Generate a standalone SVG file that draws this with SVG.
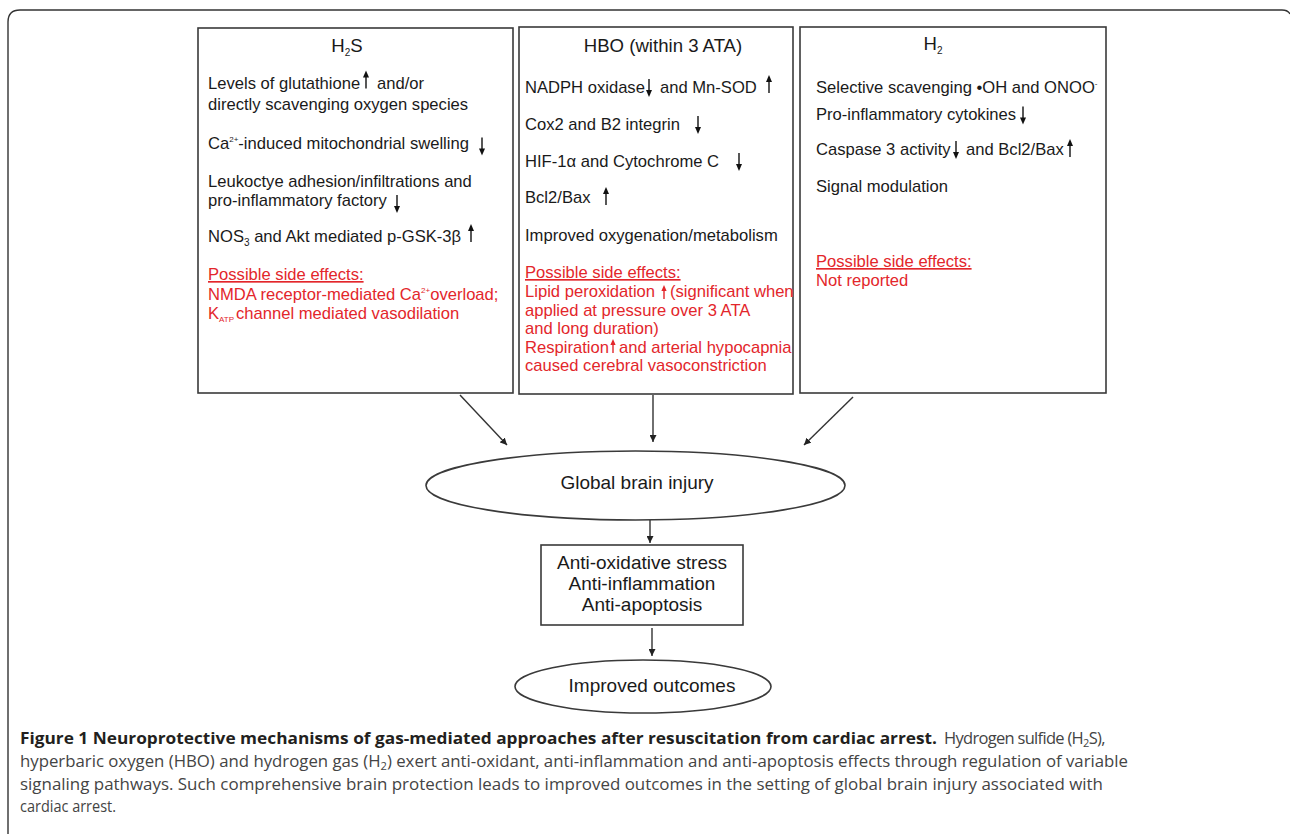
<svg xmlns="http://www.w3.org/2000/svg" xmlns:xlink="http://www.w3.org/1999/xlink" width="1290" height="834" viewBox="0 0 1290 834">
<style>
.box{fill:#fff;stroke:#3a3a3a;stroke-width:1.6}
.t{font-family:"Liberation Sans",Arial,sans-serif;font-size:16.6px;fill:#1a1a1a}
.ti{font-family:"Liberation Sans",Arial,sans-serif;font-size:18.6px;fill:#1a1a1a}
.big{font-family:"Liberation Sans",Arial,sans-serif;font-size:19px;fill:#1a1a1a}
.r{fill:#e3262b}
.u{text-decoration:underline}
.sm{font-size:10px}
.xs{font-size:8px}
.con{stroke:#333;stroke-width:1.4;fill:none}
.cap{font-family:"Open Sans","Noto Sans",sans-serif;font-size:16.5px;fill:#444}
.capb{font-weight:bold;fill:#231f20}
</style>
<defs>
<marker id="ah" viewBox="0 0 10 10" refX="10" refY="5" markerWidth="7" markerHeight="7" markerUnits="userSpaceOnUse" orient="auto">
<path d="M0,0 L10,5 L0,10 z" fill="#222"/>
</marker>
<g id="up"><path d="M0,0 V-12" stroke="#111" stroke-width="1.4"/><path d="M-3,-11 L0,-18 L3,-11 z" fill="#111"/></g>
<g id="dn"><path d="M0,0 V12" stroke="#111" stroke-width="1.4"/><path d="M-3,11 L0,18 L3,11 z" fill="#111"/></g>
<g id="upr"><path d="M0,0 V-9" stroke="#e3262b" stroke-width="1.4"/><path d="M-2.6,-8 L0,-14 L2.6,-8 z" fill="#e3262b"/></g>
</defs>

<path d="M8,834 V22 Q8,10 20,10 H1282 Q1288,10 1290,14" fill="none" stroke="#333" stroke-width="1.4"/>

<g id="box-h2s">
<rect class="box" x="198" y="28" width="315" height="365"/>
<text class="ti" x="347" y="52" text-anchor="middle">H<tspan class="sm" dy="4">2</tspan><tspan dy="-4">S</tspan></text>
<text class="t" x="208" y="88.5">Levels of glutathione</text>
<text class="t" x="377" y="88.5">and/or</text>
<text class="t" x="208" y="110">directly scavenging oxygen species</text>
<text class="t" x="208" y="148.5">Ca<tspan class="xs" dy="-7">2+</tspan><tspan dy="7">-induced mitochondrial swelling</tspan></text>
<text class="t" x="208" y="187">Leukoctye adhesion/infiltrations and</text>
<text class="t" x="208" y="206">pro-inflammatory factory</text>
<text class="t" x="208" y="242">NOS<tspan class="sm" dy="4">3</tspan><tspan dy="-4"> and Akt mediated p-GSK-3β</tspan></text>
<text class="t r u" x="208" y="280">Possible side effects:</text>
<text class="t r" x="208" y="299.5">NMDA receptor-mediated Ca<tspan class="xs" dy="-7">2+</tspan><tspan dy="7">overload;</tspan></text>
<text class="t r" x="208" y="319">K<tspan class="xs" dy="3">ATP</tspan><tspan dy="-3" x="236">channel  mediated vasodilation</tspan></text>
<use xlink:href="#up" x="366" y="88.5"/>
<use xlink:href="#dn" x="482" y="137.5"/>
<use xlink:href="#dn" x="397" y="195"/>
<use xlink:href="#up" x="471" y="242"/>
</g>

<g id="box-hbo">
<rect class="box" x="519" y="27" width="274" height="367"/>
<text class="ti" x="663" y="52" text-anchor="middle">HBO (within 3 ATA)</text>
<text class="t" x="525" y="92.5">NADPH oxidase</text>
<text class="t" x="660" y="92.5">and Mn-SOD</text>
<text class="t" x="525" y="130">Cox2 and B2 integrin</text>
<text class="t" x="525" y="166.5">HIF-1α and Cytochrome C</text>
<text class="t" x="525" y="203">Bcl2/Bax</text>
<text class="t" x="525" y="240.5">Improved oxygenation/metabolism</text>
<text class="t r u" x="525" y="278">Possible side effects:</text>
<text class="t r" x="525" y="297">Lipid peroxidation</text>
<text class="t r" x="670" y="297">(significant when</text>
<text class="t r" x="525" y="315.5">applied at pressure over 3 ATA</text>
<text class="t r" x="525" y="334">and long duration)</text>
<text class="t r" x="525" y="353">Respiration</text>
<text class="t r" x="619" y="353">and arterial hypocapnia</text>
<text class="t r" x="525" y="371">caused cerebral vasoconstriction</text>
<use xlink:href="#dn" x="649" y="79"/>
<use xlink:href="#up" x="769" y="93"/>
<use xlink:href="#dn" x="698" y="116"/>
<use xlink:href="#dn" x="739" y="153"/>
<use xlink:href="#up" x="606" y="205"/>
<use xlink:href="#upr" x="664" y="299"/>
<use xlink:href="#upr" x="613" y="353"/>
</g>

<g id="box-h2">
<rect class="box" x="800" y="27" width="306" height="366"/>
<text class="ti" x="933" y="50" text-anchor="middle">H<tspan class="sm" dy="4">2</tspan></text>
<text class="t" x="816" y="93">Selective scavenging •OH and ONOO<tspan class="xs" dy="-7">-</tspan></text>
<text class="t" x="816" y="120">Pro-inflammatory cytokines</text>
<text class="t" x="816" y="155">Caspase 3 activity</text>
<text class="t" x="966" y="155">and Bcl2/Bax</text>
<text class="t" x="816" y="192">Signal modulation</text>
<text class="t r u" x="816" y="267">Possible side effects:</text>
<text class="t r" x="816" y="285.5">Not reported</text>
<use xlink:href="#dn" x="1023" y="106.5"/>
<use xlink:href="#dn" x="956" y="141"/>
<use xlink:href="#up" x="1070" y="157"/>
</g>

<g id="node-injury">
<ellipse class="box" cx="635.5" cy="485.5" rx="209.5" ry="34.5"/>
<text class="big" x="637" y="489" text-anchor="middle">Global brain injury</text>
</g>

<g id="node-effects">
<rect class="box" x="541" y="545" width="202" height="80"/>
<text class="big" x="642" y="568.5" text-anchor="middle">Anti-oxidative stress</text>
<text class="big" x="642" y="589.5" text-anchor="middle">Anti-inflammation</text>
<text class="big" x="642" y="610.5" text-anchor="middle">Anti-apoptosis</text>
</g>

<g id="node-outcomes">
<ellipse class="box" cx="643" cy="686.5" rx="128" ry="26.5"/>
<text class="big" x="652" y="692" text-anchor="middle">Improved outcomes</text>
</g>

<g id="connectors">
<line class="con" x1="460" y1="395" x2="507" y2="445" marker-end="url(#ah)"/>
<line class="con" x1="653" y1="395" x2="653" y2="442" marker-end="url(#ah)"/>
<line class="con" x1="853" y1="397" x2="804" y2="445" marker-end="url(#ah)"/>
<line class="con" x1="650" y1="520" x2="650" y2="543" marker-end="url(#ah)"/>
<line class="con" x1="652" y1="628" x2="652" y2="656" marker-end="url(#ah)"/>
</g>

<g id="caption">
<text class="cap capb" x="20" y="744" textLength="917" lengthAdjust="spacingAndGlyphs">Figure 1 Neuroprotective mechanisms of gas-mediated approaches after resuscitation from cardiac arrest.</text>
<text class="cap" x="944" y="744" letter-spacing="-0.7">Hydrogen sulfide (H<tspan font-size="11" dy="3">2</tspan><tspan dy="-3">S),</tspan></text>
<text class="cap" x="20" y="766.5" textLength="1108" lengthAdjust="spacingAndGlyphs">hyperbaric oxygen (HBO) and hydrogen gas (H<tspan font-size="11" dy="3">2</tspan><tspan dy="-3">) exert anti-oxidant, anti-inflammation and anti-apoptosis effects through regulation of variable</tspan></text>
<text class="cap" x="20" y="789.5" textLength="1083" lengthAdjust="spacingAndGlyphs">signaling pathways. Such comprehensive brain protection leads to improved outcomes in the setting of global brain injury associated with</text>
<text class="cap" x="20" y="812" textLength="96" lengthAdjust="spacingAndGlyphs">cardiac arrest.</text>
</g>
</svg>
